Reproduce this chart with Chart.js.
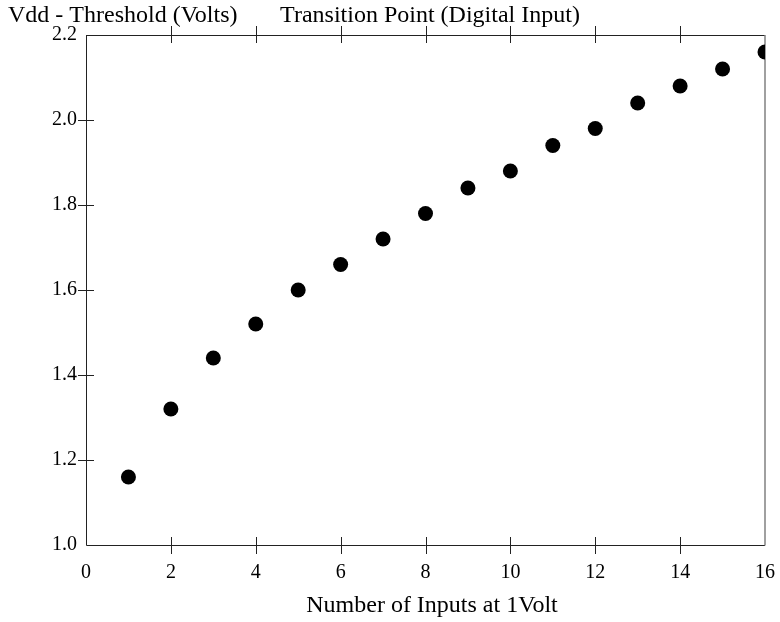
<!DOCTYPE html>
<html>
<head>
<meta charset="utf-8">
<script src="https://cdn.jsdelivr.net/npm/chart.js@4/dist/chart.umd.min.js"></script>
<style>
html,body{margin:0;padding:0;background:#fff;}
#wrap{width:780px;height:622px;}
</style>
</head>
<body>
<div id="wrap"><canvas id="c" width="780" height="622"></canvas></div>
<script>
// ---- data ----
const inputs = [1,2,3,4,5,6,7,8,9,10,11,12,13,14,15,16];
const threshold = [1.16,1.32,1.44,1.52,1.60,1.66,1.72,1.78,1.84,1.88,1.94,1.98,2.04,2.08,2.12,2.16];
const xTicks = [0,2,4,6,8,10,12,14,16];
const yTicks = [1.0,1.2,1.4,1.6,1.8,2.0,2.2];
const chartTitle = "Transition Point (Digital Input)";
const yTitle = "Vdd - Threshold (Volts)";
const xTitle = "Number of Inputs at 1Volt";

const FONT = "'Liberation Serif','Times New Roman',serif";

const framePlugin = {
  id: 'frame',
  beforeDatasetsDraw(chart) {
    const ctx = chart.ctx;
    const a = chart.chartArea;
    const xs = chart.scales.x, ys = chart.scales.y;
    ctx.save();
    ctx.lineWidth = 1;
    ctx.strokeStyle = '#222';
    ctx.beginPath();
    ctx.moveTo(a.left + 0.5, a.top + 0.5);
    ctx.lineTo(a.right, a.top + 0.5);
    ctx.moveTo(a.left + 0.5, a.top);
    ctx.lineTo(a.left + 0.5, a.bottom + 0.5);
    ctx.lineTo(a.right, a.bottom + 0.5);
    ctx.stroke();
    ctx.strokeStyle = '#808080';
    ctx.lineWidth = 1.5;
    ctx.beginPath();
    ctx.moveTo(a.right, a.top);
    ctx.lineTo(a.right, a.bottom + 0.5);
    ctx.stroke();
    // ticks
    ctx.strokeStyle = '#222';
    ctx.lineWidth = 1;
    ctx.beginPath();
    xTicks.slice(1, -1).forEach(v => {
      const px = Math.round(xs.getPixelForValue(v)) + 0.5;
      ctx.moveTo(px, a.bottom - 8); ctx.lineTo(px, a.bottom + 9);
      ctx.moveTo(px, a.top - 9); ctx.lineTo(px, a.top + 8);
    });
    yTicks.slice(1, -1).forEach(v => {
      const py = Math.round(ys.getPixelForValue(v)) + 0.5;
      ctx.moveTo(a.left - 8, py); ctx.lineTo(a.left + 8, py);
    });
    ctx.stroke();
    // titles
    ctx.fillStyle = '#000';
    ctx.font = "24px " + FONT;
    ctx.textBaseline = 'alphabetic';
    ctx.textAlign = 'left';
    ctx.fillText(yTitle, 8, 22);
    ctx.textAlign = 'center';
    ctx.fillText(chartTitle, 430, 22);
    ctx.fillText(xTitle, 432, 612);
    ctx.restore();
  }
};

new Chart(document.getElementById('c'), {
  type: 'scatter',
  data: {
    datasets: [{
      data: inputs.map((x, i) => ({x: x, y: threshold[i]})),
      backgroundColor: '#000',
      borderColor: '#000',
      pointRadius: 7.5,
      pointHoverRadius: 7.5,
      borderWidth: 0
    }]
  },
  options: {
    responsive: false,
    animation: false,
    events: [],
    layout: { padding: { left: 0, top: 35, right: 15, bottom: 0 } },
    plugins: { legend: { display: false }, tooltip: { enabled: false } },
    scales: {
      x: {
        type: 'linear', min: 0, max: 16,
        afterBuildTicks: s => { s.ticks = xTicks.map(v => ({value: v})); },
        afterFit: s => { s.height = 77; s.paddingLeft = 0; s.paddingRight = 0; },
        grid: { display: false, drawTicks: false },
        border: { display: false },
        ticks: { color: '#000', font: { family: FONT, size: 20 }, padding: 16, maxRotation: 0, autoSkip: false,
                 callback: v => String(v) }
      },
      y: {
        type: 'linear', min: 1.0, max: 2.2,
        afterBuildTicks: s => { s.ticks = yTicks.map(v => ({value: v})); },
        afterFit: s => { s.width = 86; s.paddingTop = 0; s.paddingBottom = 0; },
        grid: { display: false, drawTicks: false },
        border: { display: false },
        ticks: { color: '#000', font: { family: FONT, size: 20 }, padding: 9, autoSkip: false,
                 callback: v => Number(v).toFixed(1) }
      }
    }
  },
  plugins: [framePlugin]
});
</script>
</body>
</html>
